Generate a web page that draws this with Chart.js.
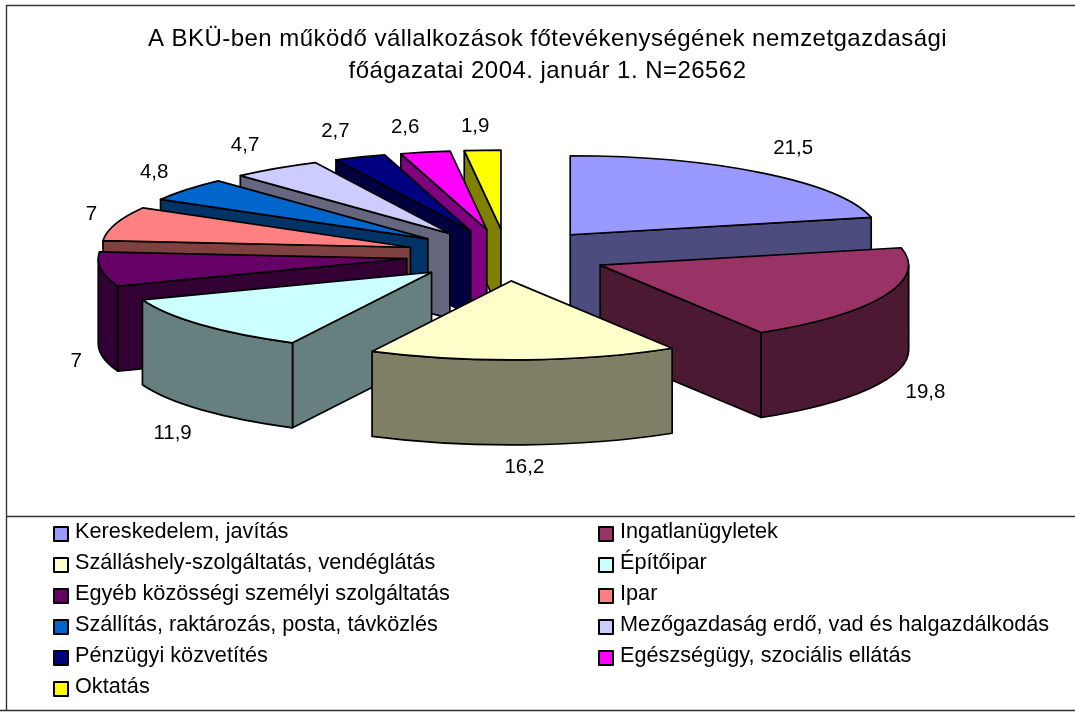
<!DOCTYPE html>
<html lang="hu">
<head>
<meta charset="utf-8">
<style>html,body{margin:0;padding:0;background:#fff}canvas{display:block}</style>
<script src="https://cdn.jsdelivr.net/npm/chart.js@4/dist/chart.umd.min.js"></script>
</head>
<body>
<canvas id="c" width="1075" height="713"></canvas>
<script>
const categories = [
  "Kereskedelem, javítás", "Ingatlanügyletek", "Szálláshely-szolgáltatás, vendéglátás",
  "Építőipar", "Egyéb közösségi személyi szolgáltatás", "Ipar",
  "Szállítás, raktározás, posta, távközlés", "Mezőgazdaság erdő, vad és halgazdálkodás",
  "Pénzügyi közvetítés", "Egészségügy, szociális ellátás", "Oktatás"
];
const values = [21.5, 19.8, 16.2, 11.9, 7, 7, 4.8, 4.7, 2.7, 2.6, 1.9];
const topColors = ["#9999FF","#993366","#FFFFCC","#CCFFFF","#660066","#FF8080","#0066CC","#CCCCFF","#000080","#FF00FF","#FFFF00"];
const wallColors = ["#4C4C7F","#4C1933","#7F7F66","#667F7F","#330033","#7F4040","#003366","#66667F","#000040","#7F007F","#7F7F00"];
const titleLines = ["A BKÜ-ben működő vállalkozások főtevékenységének nemzetgazdasági", "főágazatai 2004. január 1. N=26562"];

const FONT = '"Liberation Sans", Arial, sans-serif';
const G = {cx:507, cy:255, rx:308.5, ry:79, wall:85, explode:0.328, lw:1.7};
const LBL = {rx:450, ry:135};
const labelNudge = [[5,-1],[4,0],[-1,-8],[1,3],[15,3],[14,0],[-1,2],[-8,2],[-10,2],[-12,5],[-5,6]];
const LEG = {rowTop:525, rowStep:31, box:14, col:[54,599], textGap:7};
const FRAME = "#333";

function line(ctx,x0,y0,x1,y1){ctx.beginPath();ctx.moveTo(x0,y0);ctx.lineTo(x1,y1);ctx.stroke();}

const pie3d = {
  id:"pie3d",
  beforeDraw(chart){ chart.ctx.letterSpacing = "0.46px"; },
  beforeDatasetsDraw(chart){
    const ctx = chart.ctx, meta = chart.getDatasetMeta(0);
    ctx.letterSpacing = "0px";
    const items = meta.data.map((el,i)=>({el,i,mid:(el.startAngle+el.endAngle)/2}));
    items.sort((a,b)=>Math.sin(a.mid)-Math.sin(b.mid));
    ctx.lineJoin = "round";
    for(const {el,i,mid} of items){
      const a0 = el.startAngle, a1 = el.endAngle, R = el.outerRadius;
      const ax = G.cx + G.rx*G.explode*Math.cos(mid);
      const ay = G.cy + G.ry*G.explode*Math.sin(mid);
      const px = t=>ax+G.rx*Math.cos(t), py = t=>ay+G.ry*Math.sin(t);
      ctx.strokeStyle = "#000"; ctx.lineWidth = G.lw; ctx.fillStyle = wallColors[i];
      const quad = t=>{
        ctx.beginPath();ctx.moveTo(ax,ay);ctx.lineTo(px(t),py(t));
        ctx.lineTo(px(t),py(t)+G.wall);ctx.lineTo(ax,ay+G.wall);ctx.closePath();ctx.fill();ctx.stroke();
      };
      if(Math.cos(a0)<0) quad(a0);
      if(Math.cos(a1)>0) quad(a1);
      const w0 = Math.max(a0,0), w1 = Math.min(a1,Math.PI);
      if(w1>w0){
        ctx.beginPath();ctx.ellipse(ax,ay,G.rx,G.ry,0,w0,w1);
        ctx.ellipse(ax,ay+G.wall,G.rx,G.ry,0,w1,w0,true);ctx.closePath();ctx.fill();ctx.stroke();
      }
      ctx.save();
      ctx.translate(ax,ay);ctx.scale(G.rx/R,G.ry/R);ctx.translate(-el.x,-el.y);
      el.draw(ctx);
      ctx.restore();
      ctx.beginPath();ctx.moveTo(ax,ay);ctx.ellipse(ax,ay,G.rx,G.ry,0,a0,a1);ctx.closePath();ctx.stroke();
    }
    return false;
  },
  afterDraw(chart){
    const ctx = chart.ctx, meta = chart.getDatasetMeta(0);
    ctx.save();
    ctx.letterSpacing = "0px";
    ctx.fillStyle = "#000";ctx.font = "20.5px "+FONT;ctx.textAlign = "center";ctx.textBaseline = "middle";
    meta.data.forEach((el,i)=>{
      const mid = (el.startAngle+el.endAngle)/2, s = Math.sin(mid);
      const x = G.cx+LBL.rx*Math.cos(mid)+labelNudge[i][0];
      const y = G.cy+LBL.ry*s+(s>0?G.wall:0)+labelNudge[i][1];
      ctx.fillText(String(values[i]).replace(".",","),x,y);
    });
    ctx.textAlign = "left";ctx.font = "21.7px "+FONT;
    categories.forEach((t,i)=>{
      const col = i%2, row = (i-col)/2;
      const x = LEG.col[col], y = LEG.rowTop+row*LEG.rowStep+2;
      ctx.fillStyle = topColors[i];ctx.fillRect(x,y,LEG.box,LEG.box);
      ctx.strokeStyle = "#000";ctx.lineWidth = 2;ctx.strokeRect(x,y,LEG.box,LEG.box);
      ctx.fillStyle = "#000";ctx.fillText(t,x+LEG.box+LEG.textGap,y+LEG.box/2-2);
    });
    ctx.strokeStyle = FRAME;ctx.lineWidth = 1.4;
    line(ctx,6,5.5,1075,5.5);
    line(ctx,6.5,5,6.5,710);
    line(ctx,6,516.5,1075,516.5);
    line(ctx,0,710.5,1075,710.5);
    ctx.restore();
  }
};

new Chart(document.getElementById("c"),{
  type:"pie",
  data:{labels:categories,datasets:[{data:values,backgroundColor:topColors,borderWidth:0}]},
  plugins:[pie3d],
  options:{
    responsive:false,animation:false,events:[],
    layout:{padding:{left:20,right:0,top:0,bottom:0}},
    plugins:{
      legend:{display:false},tooltip:{enabled:false},
      title:{display:true,text:titleLines,color:"#000",padding:{top:23,bottom:0},
        font:{family:FONT,size:24,weight:"normal",lineHeight:1.333}}
    }
  }
});
</script>
</body>
</html>
